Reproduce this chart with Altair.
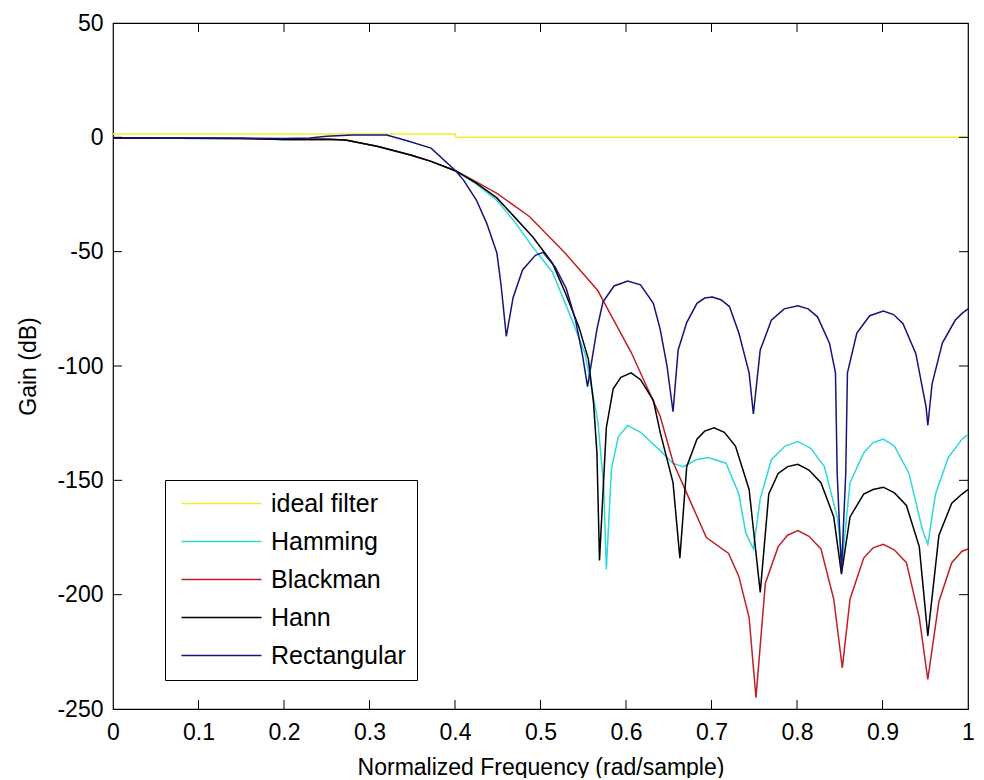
import altair as alt
import pandas as pd

# ---------------- data ----------------
series_names = ["ideal filter", "Hamming", "Blackman", "Hann", "Rectangular"]
series_colors = ["#eeee30", "#30d8d8", "#c02025", "#000000", "#14147a"]

ideal_x = [0.0, 0.4, 0.401, 1.0]
ideal_y = [1.5, 1.5, 0.0, 0.0]

hamming_x = [0.0, 0.15, 0.2, 0.25, 0.272, 0.31, 0.349, 0.372, 0.401, 0.425, 0.449, 0.47,
             0.491, 0.514, 0.537, 0.552, 0.567, 0.574, 0.577, 0.583, 0.591, 0.602, 0.617,
             0.640, 0.655, 0.667, 0.682, 0.696, 0.717, 0.732, 0.740, 0.749, 0.757, 0.770,
             0.786, 0.801, 0.816, 0.832, 0.847, 0.853, 0.862, 0.878, 0.889, 0.901, 0.914,
             0.931, 0.947, 0.953, 0.962, 0.977, 0.993, 1.0]
hamming_y = [-0.3, -0.5, -1.0, -0.8, -1.2, -4.0, -7.8, -10.5, -14.7, -20.5, -27.6, -37.0,
             -48.0, -59.0, -80.0, -94.5, -124.0, -153.0, -189.0, -145.0, -131.0, -126.0, -129.0,
             -137.0, -142.6, -144.0, -141.0, -140.0, -142.5, -156.0, -173.0, -180.0, -158.0, -141.0,
             -135.0, -133.0, -136.0, -144.0, -166.0, -185.0, -151.0, -138.0, -133.5, -132.0, -135.0,
             -147.0, -172.0, -178.0, -156.0, -140.0, -132.0, -130.0]

blackman_x = [0.0, 0.15, 0.2, 0.25, 0.272, 0.31, 0.349, 0.372, 0.401, 0.425, 0.449, 0.487,
              0.529, 0.567, 0.575, 0.606, 0.640, 0.655, 0.675, 0.694, 0.720, 0.732, 0.744,
              0.752, 0.763, 0.778, 0.789, 0.801, 0.814, 0.828, 0.843, 0.853, 0.862, 0.878,
              0.889, 0.901, 0.914, 0.928, 0.943, 0.953, 0.966, 0.981, 0.993, 1.0]
blackman_y = [-0.3, -0.5, -1.0, -0.8, -1.2, -4.0, -7.8, -10.5, -14.7, -19.5, -24.5, -34.6,
              -50.7, -67.0, -72.6, -94.0, -122.0, -142.0, -159.0, -175.0, -182.0, -192.0, -210.0,
              -245.0, -195.0, -179.0, -174.0, -172.0, -174.5, -180.0, -202.0, -232.0, -202.0, -184.0,
              -179.5, -178.0, -180.5, -186.0, -210.0, -237.0, -203.0, -186.0, -181.0, -180.0]

hann_x = [0.0, 0.15, 0.2, 0.25, 0.272, 0.31, 0.349, 0.372, 0.401, 0.425, 0.449, 0.47,
          0.491, 0.514, 0.529, 0.545, 0.556, 0.562, 0.566, 0.569, 0.577, 0.585, 0.594,
          0.606, 0.617, 0.632, 0.640, 0.655, 0.663, 0.671, 0.683, 0.692, 0.703, 0.715,
          0.728, 0.744, 0.757, 0.767, 0.778, 0.789, 0.801, 0.814, 0.828, 0.843, 0.852,
          0.862, 0.878, 0.889, 0.901, 0.914, 0.928, 0.943, 0.953, 0.966, 0.981, 0.993, 1.0]
hann_y = [-0.3, -0.5, -1.0, -0.8, -1.2, -4.0, -7.8, -10.5, -14.7, -20.0, -26.5, -35.0,
          -43.6, -55.0, -68.0, -83.0, -97.0, -116.0, -138.0, -185.0, -127.0, -110.0, -105.0,
          -103.0, -106.0, -115.0, -129.0, -151.0, -184.0, -144.0, -132.0, -128.5, -127.0, -129.0,
          -135.0, -154.0, -199.0, -156.0, -147.0, -144.0, -143.0, -145.5, -151.0, -166.0, -191.0,
          -166.0, -156.0, -154.0, -153.0, -155.5, -161.0, -179.0, -218.0, -174.0, -160.0, -156.0, -154.0]

rect_x = [0.0, 0.1, 0.2, 0.23, 0.25, 0.28, 0.32, 0.341, 0.372, 0.401, 0.410, 0.425, 0.437,
          0.449, 0.454, 0.460, 0.468, 0.479, 0.494, 0.503, 0.517, 0.530, 0.541, 0.549, 0.555,
          0.566, 0.573, 0.586, 0.602, 0.617, 0.632, 0.640, 0.648, 0.655, 0.661, 0.671,
          0.683, 0.692, 0.701, 0.711, 0.721, 0.732, 0.744, 0.749, 0.757, 0.770, 0.785, 0.801,
          0.813, 0.824, 0.838, 0.845, 0.847, 0.852, 0.857, 0.859, 0.870, 0.885, 0.901, 0.913,
          0.924, 0.939, 0.951, 0.953, 0.958, 0.970, 0.985, 0.993, 1.0]
rect_y = [-0.3, -0.3, -0.5, -0.3, 0.5, 1.0, 1.0, -1.2, -4.7, -14.7, -18.7, -27.4, -37.5,
          -50.6, -65.0, -87.0, -70.0, -58.0, -51.6, -50.3, -56.7, -66.0, -80.0, -95.0, -109.0,
          -84.0, -72.0, -65.0, -62.8, -64.5, -72.6, -84.0, -100.0, -120.0, -93.0, -81.0,
          -72.6, -70.3, -69.8, -71.0, -74.0, -85.6, -103.0, -121.0, -93.0, -80.0, -75.0, -73.7,
          -75.0, -78.5, -90.0, -103.0, -147.0, -190.0, -147.0, -103.0, -85.6, -78.0, -76.0, -77.5,
          -81.5, -94.6, -118.0, -126.0, -107.8, -90.0, -80.0, -77.0, -75.0]

x_ticks = [0, 0.1, 0.2, 0.3, 0.4, 0.5, 0.6, 0.7, 0.8, 0.9, 1.0]
y_ticks = [-250, -200, -150, -100, -50, 0, 50]

x_title = "Normalized Frequency (rad/sample)"
y_title = "Gain (dB)"

# ---------------- build table ----------------
rows = []
for name, xs, ys in [("ideal filter", ideal_x, ideal_y),
                     ("Hamming", hamming_x, hamming_y),
                     ("Blackman", blackman_x, blackman_y),
                     ("Hann", hann_x, hann_y),
                     ("Rectangular", rect_x, rect_y)]:
    for i, (a, b) in enumerate(zip(xs, ys)):
        rows.append({"series": name, "x": a, "y": b, "order": i})
df = pd.DataFrame(rows)

W, H = 855, 686
TICK = 9
FONT = "Liberation Sans"

x_scale = alt.Scale(domain=[0, 1], nice=False, zero=False)
y_scale = alt.Scale(domain=[-250, 50], nice=False, zero=False)
x_axis = alt.Axis(values=x_ticks, labelExpr="'' + datum.value", title=x_title,
                  labelPadding=12, titlePadding=12, labelFlush=False)
y_axis = alt.Axis(values=y_ticks, labelExpr="'' + datum.value", title=y_title,
                  labelPadding=10, titlePadding=16, labelFlush=False)

lines = alt.Chart(df).mark_line(strokeWidth=1.5).encode(
    x=alt.X("x:Q", scale=x_scale, axis=x_axis),
    y=alt.Y("y:Q", scale=y_scale, axis=y_axis),
    color=alt.Color(
        "series:N",
        scale=alt.Scale(domain=series_names, range=series_colors),
        sort=series_names,
        legend=alt.Legend(
            orient="none", legendX=52, legendY=457, title=None,
            symbolType="M-0.7,0H7.3", symbolSize=400, symbolStrokeWidth=1.5,
            labelFontSize=25, labelFont=FONT, labelColor="black",
            labelOffset=70, rowPadding=12, padding=11,
            strokeColor="black", fillColor="white", cornerRadius=0,
            direction="vertical", columns=1,
        ),
    ),
    order="order:Q",
)

xt = pd.DataFrame({"x": x_ticks[1:-1]})
yt = pd.DataFrame({"y": y_ticks[1:-1]})

tick_bottom = alt.Chart(xt).mark_rule(color="black", strokeWidth=1).encode(
    x=alt.X("x:Q", scale=x_scale, axis=x_axis), y=alt.value(H), y2=alt.value(H - TICK))
tick_top = alt.Chart(xt).mark_rule(color="black", strokeWidth=1).encode(
    x=alt.X("x:Q", scale=x_scale, axis=x_axis), y=alt.value(0), y2=alt.value(TICK))
tick_left = alt.Chart(yt).mark_rule(color="black", strokeWidth=1).encode(
    y=alt.Y("y:Q", scale=y_scale, axis=y_axis), x=alt.value(0), x2=alt.value(TICK))
tick_right = alt.Chart(yt).mark_rule(color="black", strokeWidth=1).encode(
    y=alt.Y("y:Q", scale=y_scale, axis=y_axis), x=alt.value(W), x2=alt.value(W - TICK))

chart = alt.layer(lines, tick_bottom, tick_top, tick_left, tick_right).properties(
    width=W, height=H,
    autosize=alt.AutoSizeParams(type="none"),
    padding={"left": 105, "top": 15, "right": 8, "bottom": 69},
    background="white",
).configure_view(
    stroke="black", strokeWidth=1.2,
).configure_axis(
    domain=False, ticks=False, tickSize=0, grid=False,
    labelFont=FONT, labelFontSize=23, labelColor="black",
    titleFont=FONT, titleFontSize=23, titleColor="black", titleFontWeight="normal",
)

chart.save("out.html", embed_options={"renderer": "svg", "actions": False})
